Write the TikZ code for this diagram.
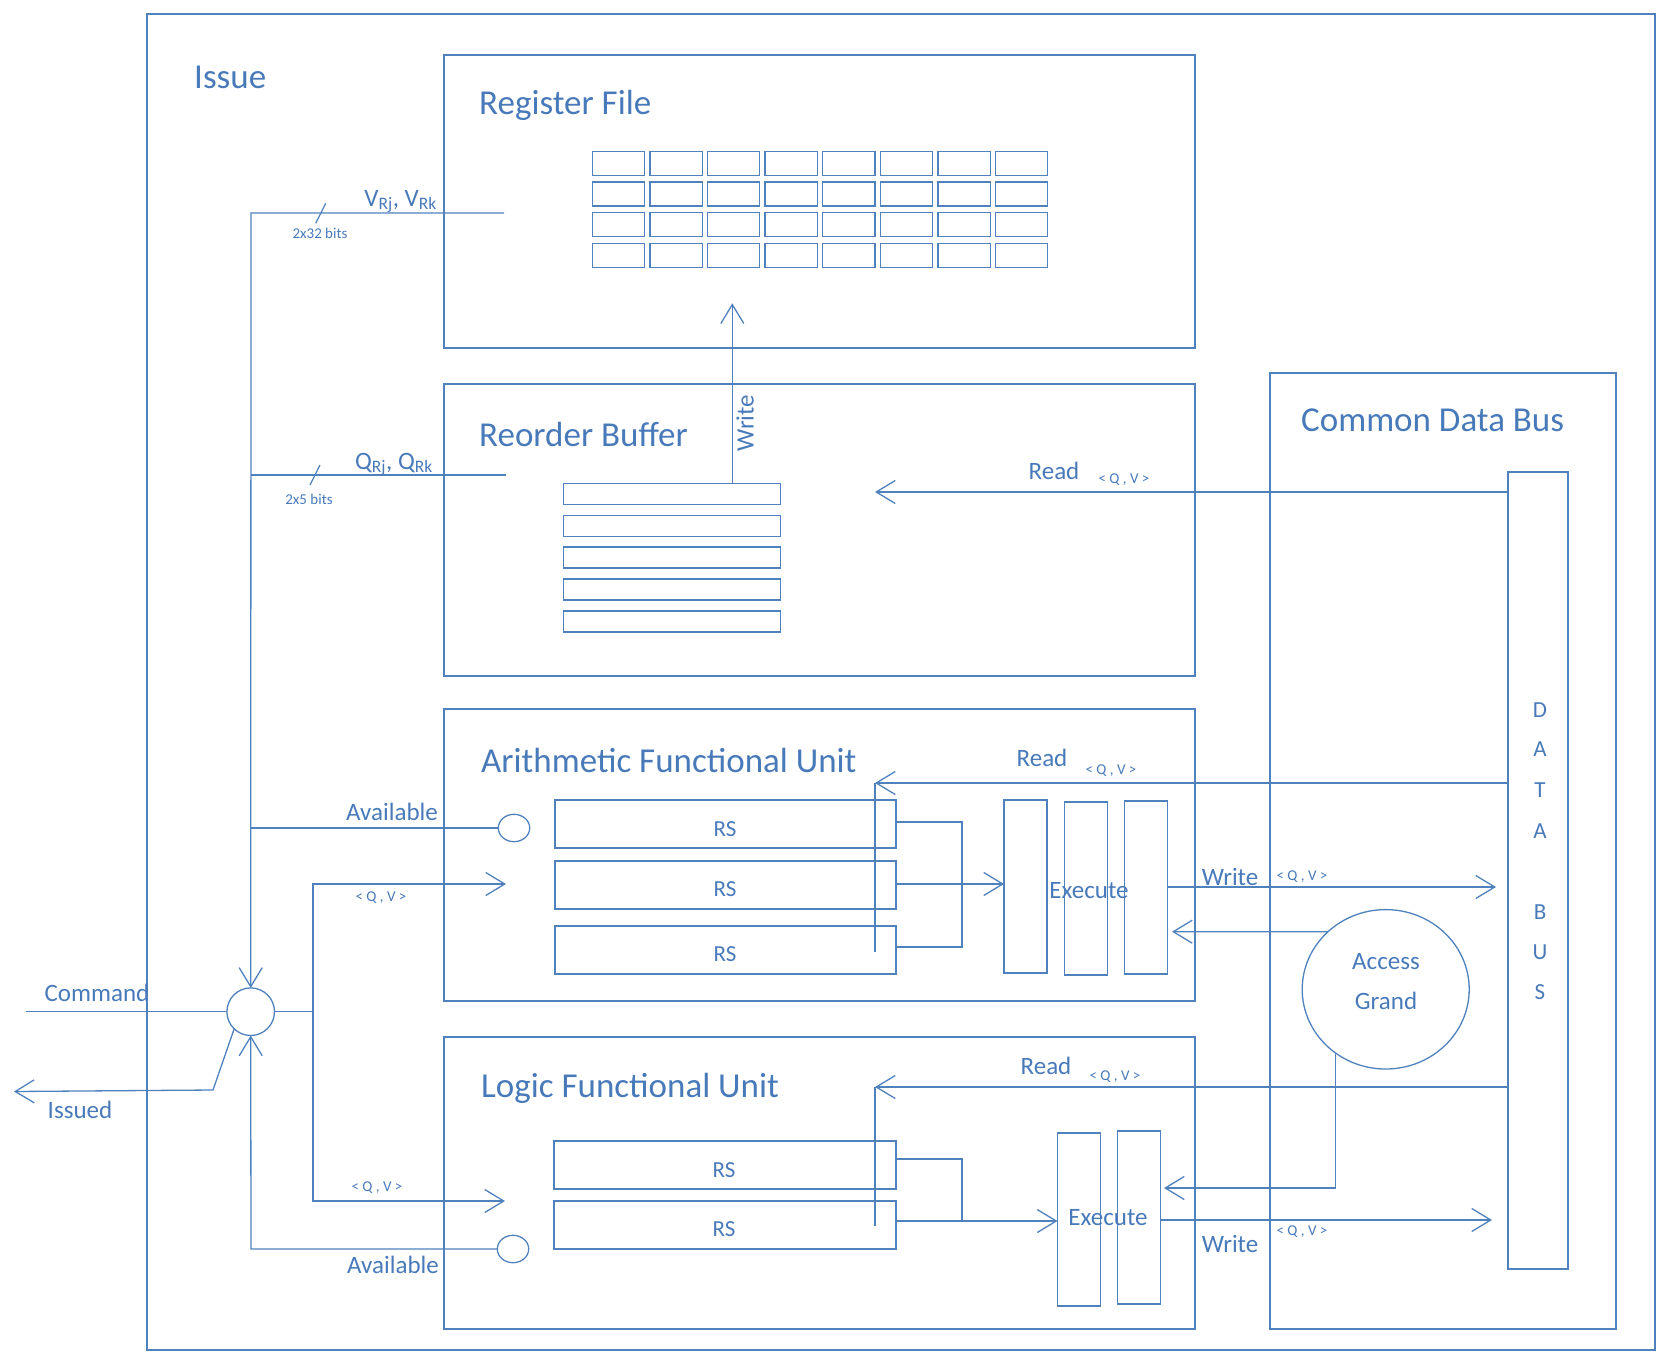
\documentclass[tikz,border=0pt]{standalone}
\usepackage{fontspec}
\setmainfont{Carlito}
\usetikzlibrary{arrows.meta,shapes.geometric}
\definecolor{bl}{RGB}{79,129,189}
\definecolor{tx}{RGB}{72,122,186}
\newcommand\mybox[5]{\node[box,minimum width={(#4)-(#2)},minimum height={(#5)-(#3)}] (#1) at (#2,#3) {};}
\tikzset{
 box/.style={draw=bl,line width=1.3pt,rectangle,inner sep=0pt,outer sep=0pt,anchor=north west},
 ln/.style={draw=bl,line width=1.3pt},
 arr/.style={ln,-{Straight Barb[length=19pt,width=23pt]}},
 big/.style={text=tx,inner sep=0pt,font=\fontsize{35}{41}\selectfont},
 med/.style={text=tx,inner sep=0pt,font=\fontsize{25}{30}\selectfont},
 sm/.style={text=tx,inner sep=0pt,font=\fontsize{15}{18}\selectfont},
 rs/.style={text=tx,inner sep=0pt,font=\fontsize{23}{28}\selectfont},
 ring/.style={draw=bl,line width=1.3pt,ellipse,inner sep=0pt,outer sep=0pt},
}
\begin{document}
\begin{tikzpicture}[x=1pt,y=-1pt]
\useasboundingbox (0,0) rectangle (1670,1370);
% main boxes
\mybox{issue}{147}{14}{1655}{1350}
\mybox{rf}{444}{55}{1195}{348}
\mybox{rob}{444}{384}{1195}{676}
\mybox{afu}{444}{709}{1195}{1001}
\mybox{lfu}{444}{1037}{1195}{1329}
\mybox{cdb}{1270}{373}{1616}{1329}
\mybox{dbus}{1508}{472}{1568}{1269}
% titles
\node[big,anchor=west] (tIssue) at (194,77) {Issue};
\node[big,anchor=west] (tRF) at (479,105) {Register File};
\node[big,anchor=west] (tROB) at (479,434) {Reorder Buffer};
\node[big,anchor=west] (tAFU) at (481,760) {Arithmetic Functional Unit};
\node[big,anchor=west] (tLFU) at (481,1088) {Logic Functional Unit};
\node[big,anchor=west] (tCDB) at (1301,420) {Common Data Bus};
% register file cells
\foreach \i in {0,...,7}{\foreach \j in {0,...,3}{
  \pgfmathsetmacro\cx{592.3+57.6*\i}
  \pgfmathsetmacro\cy{151.3+30.7*\j}
  \node[box,minimum width=52.3,minimum height=24] (rc-\i-\j) at (\cx,\cy) {};
}}
% reorder buffer slots
\foreach \k in {0,...,4}{
  \pgfmathsetmacro\cy{483.3+31.9*\k}
  \node[box,minimum width=217,minimum height=21] (rob-\k) at (563.3,\cy) {};
}
\coordinate (wr0) at (732.3,483.3);
\coordinate (wr1) at (732.3,303.3);
\draw[arr] (wr0) -- (wr1);
\node[med,rotate=90] (tWriteR) at (745,423) {Write};
% ROB read
\coordinate (robr) at (875,492);
\draw[arr] (dbus.west |- robr) -- (robr);
\node[med] (tReadR) at (1054,471) {Read};
\node[sm] (qvR) at (1124,480) {< Q , V >};
% AFU
\mybox{rsa1}{555}{800}{896}{848}
\mybox{rsa2}{555}{861}{896}{909}
\mybox{rsa3}{555}{926}{896}{974}
\node[rs] (trsa1) at (725,829) {RS};
\node[rs] (trsa2) at (725,889) {RS};
\node[rs] (trsa3) at (725,954) {RS};
\mybox{exa1}{1004}{800}{1047}{973}
\mybox{exa2}{1064.4}{802}{1107.5}{975}
\mybox{exa3}{1124.5}{801}{1167.2}{974}
\node[med] (texa) at (1089,891) {Execute};
\coordinate (rda) at (875,783);
\draw[arr] (dbus.west |- rda) -- (rda);
\draw[ln] (rda) -- (875,952);
\node[med] (tReadA) at (1042,758) {Read};
\node[sm] (qvA1) at (1111,771) {< Q , V >};
\coordinate (ja) at (962,822);
\draw[ln] (896,822) -- (ja) -- (962,947) -- (896,947);
\draw[arr] (896,884) -- (exa1.west |- 0,884);
\coordinate (wra) at (1496,887);
\draw[arr] (exa3.east |- wra) -- (wra);
\node[med] (tWriteA) at (1230,877) {Write};
\node[sm] (qvA2) at (1302,877) {< Q , V >};
% access grand
\node[ring,minimum width=167,minimum height=159.4] (ag) at (1385.7,989.3) {};
\node[med] (tag1) at (1386,962) {Access};
\node[med] (tag2) at (1386,1001) {Grand};
\coordinate (ag2a) at (1172,931.7);
\draw[arr] (ag.135) -- (ag2a);
\coordinate (ag2l) at (1164,1188);
\draw[arr] (ag.232) |- (ag2l);
% LFU
\mybox{rsl1}{554}{1141}{896}{1189}
\mybox{rsl2}{554}{1201}{896}{1249}
\node[rs] (trsl1) at (724,1170) {RS};
\node[rs] (trsl2) at (724,1229) {RS};
\mybox{exl1}{1057.5}{1133}{1100.4}{1306}
\mybox{exl2}{1117.5}{1131}{1160.7}{1304}
\node[med] (texl) at (1108,1218) {Execute};
\coordinate (rdl) at (875,1087);
\draw[arr] (dbus.west |- rdl) -- (rdl);
\draw[ln] (rdl) -- (875,1226);
\node[med] (tReadL) at (1046,1066) {Read};
\node[sm] (qvL1) at (1115,1077) {< Q , V >};
\draw[ln] (896,1159) -- (962,1159) -- (962,1221) -- (896,1221);
\draw[arr] (962,1221) -- (exl1.west |- 0,1221);
\coordinate (wrl) at (1492,1220);
\draw[arr] (exl2.east |- wrl) -- (wrl);
\node[med] (tWriteL) at (1230,1244) {Write};
\node[sm] (qvL2) at (1302,1232) {< Q , V >};
% data bus letters
\foreach \l/\yy [count=\n] in {D/709.7,A/749.5,T/790,A/831,B/911.7,U/952,S/992}{
  \node[rs] (db-\n) at (1540,\yy) {\l};
}
% issue logic
\node[ring,circle,minimum size=47.6] (ic) at (250.7,1011.7) {};
\coordinate (cmd) at (26,1011.7);
\draw[ln] (cmd) -- (ic.west);
\node[med] (tCmd) at (97,993) {Command};
\coordinate (issued) at (14,1091.5);
\draw[arr] (ic.226) -- (213,1090) -- (issued);
\node[med] (tIssued) at (80,1110) {Issued};
\coordinate (vend) at (504,213);
\draw[arr] (vend) -- (251,213) -- (ic.north);
\draw[ln] (251,475) -- (506,475);
\draw[ln] (325.7,203.3) -- (315.7,223.3);
\draw[ln] (320,465) -- (310,485);
\node[med,anchor=base east] (tV) at (437,206) {V\textsubscript{Rj}, V\textsubscript{Rk}};
\node[med,anchor=base east] (tQ) at (433,469) {Q\textsubscript{Rj}, Q\textsubscript{Rk}};
\node[sm] (b32) at (320,233) {2x32 bits};
\node[sm] (b5) at (309,499) {2x5 bits};
\node[ring,minimum width=31.4,minimum height=27.4] (ava) at (514,828) {};
\node[ring,minimum width=31.4,minimum height=27.4] (avl) at (513,1249) {};
\draw[ln] (251,828) -- (ava.west);
\draw[arr] (avl.west) -- (251,1249) -- (ic.south);
\node[med] (tAvA) at (392,812) {Available};
\node[med] (tAvL) at (393,1265) {Available};
\coordinate (qva) at (506,884);
\coordinate (qvl) at (505,1201);
\draw[arr] (ic.east) -- (313,1011.7) |- (qva);
\draw[arr] (313,1011.7) |- (qvl);
\node[sm] (qvI1) at (381,898) {< Q , V >};
\node[sm] (qvI2) at (377,1188) {< Q , V >};
\end{tikzpicture}
\end{document}
